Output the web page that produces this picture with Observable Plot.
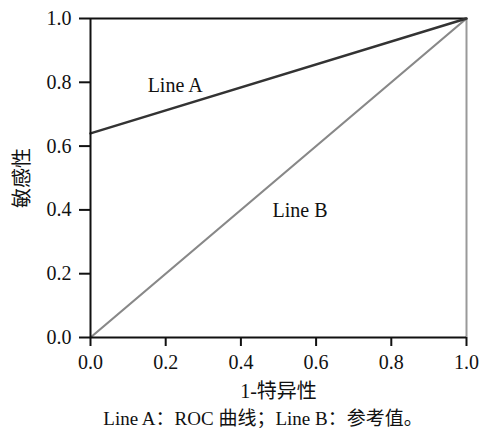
<!DOCTYPE html>
<html>
<head>
<meta charset="utf-8">
<script src="https://cdn.jsdelivr.net/npm/d3@7"></script>
<script src="https://cdn.jsdelivr.net/npm/@observablehq/plot@0.6"></script>
<style>
  body { margin: 0; background: #fff; }
  #chart svg, #chart svg text { font-family: "Liberation Serif", "Noto Sans CJK SC", serif !important; }
  #caption { width: 480px; box-sizing: border-box; padding-left: 46px; text-align: center;
    font-family: "Liberation Serif", "Noto Sans CJK SC", serif; font-size: 19px; line-height: 20px; color: #111; margin-top: 9px; white-space: nowrap; }
</style>
</head>
<body>
<div id="chart"></div>
<div id="caption">Line A：ROC 曲线；Line B：参考值。</div>
<script>
const ticks = [0, 0.2, 0.4, 0.6, 0.8, 1.0];
const lineAX = [0, 1];
const lineAY = [0.64, 1.0];
const lineBX = [0, 1];
const lineBY = [0, 1];
const labels = [
  {x: 0.152, y: 0.79, text: "Line A"},
  {x: 0.484, y: 0.398, text: "Line B"}
];
const lineA = lineAX.map((x, i) => ({x, y: lineAY[i]}));
const lineB = lineBX.map((x, i) => ({x, y: lineBY[i]}));
const FONT = "Liberation Serif, Noto Sans CJK SC, serif";

const chart = Plot.plot({
  width: 480,
  height: 400,
  marginLeft: 90,
  marginRight: 14,
  marginTop: 18,
  marginBottom: 63,
  style: {fontFamily: FONT, fontSize: "20px", color: "#111", background: "#fff"},
  x: {domain: [0, 1]},
  y: {domain: [0, 1]},
  marks: [
    Plot.ruleY([1], {stroke: "#111", strokeWidth: 2}),
    Plot.ruleX([1], {stroke: "#999", strokeWidth: 2}),
    Plot.line(lineB, {x: "x", y: "y", stroke: "#888", strokeWidth: 2.2}),
    Plot.line(lineA, {x: "x", y: "y", stroke: "#333", strokeWidth: 2.5}),
    Plot.text(labels, {x: "x", y: "y", text: "text", textAnchor: "start", fontSize: 20, fontFamily: FONT, fill: "#111"}),
    Plot.axisX({ticks, tickFormat: d3.format(".1f"), tickSize: 9, tickPadding: 8, strokeWidth: 2, stroke: "#111",
      label: "1-特异性", labelAnchor: "center", labelArrow: "none", labelOffset: 60, fontSize: 20, fontFamily: FONT}),
    Plot.axisY({ticks, tickFormat: d3.format(".1f"), tickSize: 11, tickPadding: 8, strokeWidth: 2, stroke: "#111",
      label: "敏感性", labelAnchor: "center", labelArrow: "none", labelOffset: 76, fontSize: 20, fontFamily: FONT}),
    Plot.ruleX([0], {stroke: "#111", strokeWidth: 2}),
    Plot.ruleY([0], {stroke: "#111", strokeWidth: 2})
  ]
});
document.getElementById("chart").appendChild(chart);
</script>
</body>
</html>
